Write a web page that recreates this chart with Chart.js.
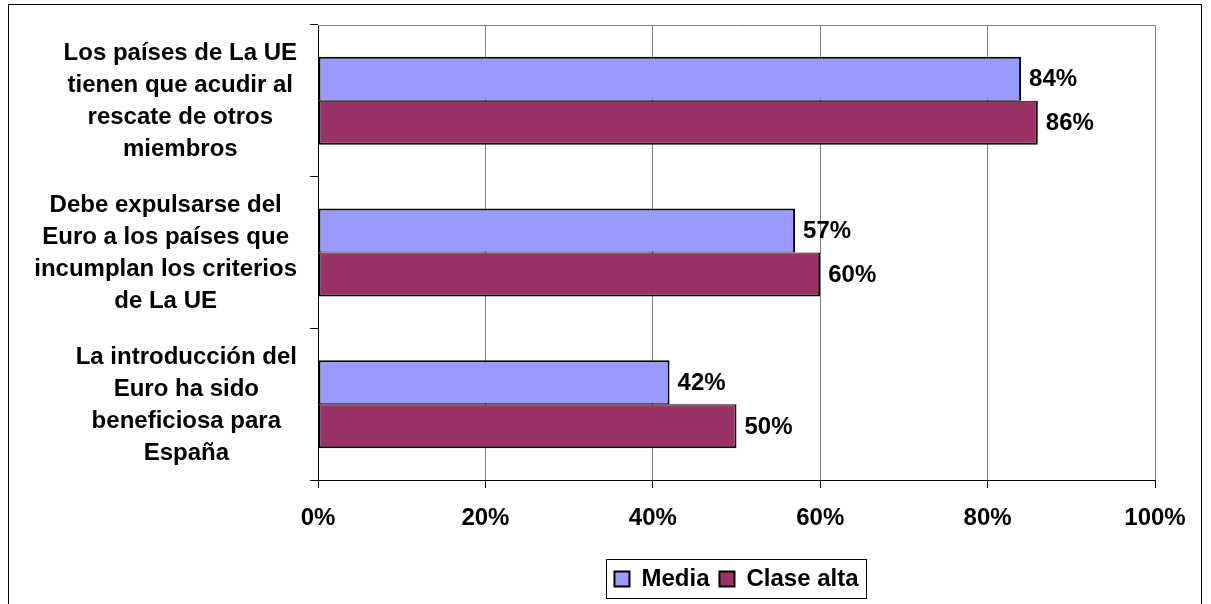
<!DOCTYPE html>
<html>
<head>
<meta charset="utf-8">
<script src="https://cdn.jsdelivr.net/npm/chart.js@4"></script>
<style>
  html, body { margin: 0; padding: 0; background: #fff; }
  #wrap { width: 1211px; height: 604px; }
</style>
</head>
<body>
<div id="wrap"><canvas id="chart" width="1211" height="604"></canvas></div>
<script>
// --- DATA ---
const categories = [
    ['Los países de La UE', 'tienen que acudir al', 'rescate de otros', 'miembros'],
    ['Debe expulsarse del', 'Euro a los países que', 'incumplan los criterios', 'de La UE'],
    ['La introducción del', 'Euro ha sido', 'beneficiosa para', 'España']
];
const seriesNames = ['Media', 'Clase alta'];
const mediaValues = [84, 57, 42];
const claseAltaValues = [86, 60, 50];
const xTickLabels = ['0%', '20%', '40%', '60%', '80%', '100%'];

const FONT = "'Liberation Sans', Arial, sans-serif";
const LABEL_FONT = 'bold 24px ' + FONT;

// frame, outer border, category labels, value labels, legend box
const extras = {
    id: 'extras',
    beforeDraw(chart) {
        const ctx = chart.ctx;
        ctx.save();
        ctx.strokeStyle = '#000';
        ctx.lineWidth = 1;
        ctx.strokeRect(8.5, 4.5, 1193, 640);
        ctx.restore();
    },
    beforeDatasetsDraw(chart) {
        const { ctx, chartArea: a } = chart;
        ctx.save();
        ctx.strokeStyle = '#808080';
        ctx.lineWidth = 1;
        ctx.beginPath();
        ctx.moveTo(a.left, Math.round(a.top) + 0.5);
        ctx.lineTo(a.right, Math.round(a.top) + 0.5);
        ctx.stroke();
        ctx.restore();
    },
    afterDatasetsDraw(chart) {
        const ctx = chart.ctx;
        ctx.save();
        ctx.font = LABEL_FONT;
        ctx.fillStyle = '#000';
        ctx.textAlign = 'left';
        ctx.textBaseline = 'middle';
        chart.data.datasets.forEach((ds, i) => {
            chart.getDatasetMeta(i).data.forEach((bar, j) => {
                ctx.fillText(ds.data[j] + '%', bar.x + 8, bar.y + 1);
            });
        });
        ctx.restore();
    },
    afterDraw(chart) {
        const ctx = chart.ctx;
        // category labels: each block right-aligned, lines centred inside the block
        const yScale = chart.scales.y;
        ctx.save();
        ctx.font = LABEL_FONT;
        ctx.fillStyle = '#000';
        ctx.textAlign = 'center';
        ctx.textBaseline = 'middle';
        const lineH = 32;
        chart.data.labels.forEach((lines, i) => {
            const yc = yScale.getPixelForTick(i);
            const widest = Math.max(...lines.map(s => ctx.measureText(s).width));
            const xc = yScale.right - 21 - widest / 2;
            lines.forEach((s, k) => {
                ctx.fillText(s, xc, yc + (k - (lines.length - 1) / 2) * lineH + 1);
            });
        });
        ctx.restore();

        const boxes = chart.legend.legendHitBoxes;
        if (!boxes || !boxes.length) return;
        let l = Infinity, r = -Infinity, t = Infinity, b = -Infinity;
        boxes.forEach(h => {
            l = Math.min(l, h.left); r = Math.max(r, h.left + h.width);
            t = Math.min(t, h.top); b = Math.max(b, h.top + h.height);
        });
        const cy = (t + b) / 2;
        ctx.save();
        ctx.strokeStyle = '#000';
        ctx.lineWidth = 1;
        ctx.strokeRect(Math.round(l - 8) + 0.5, Math.round(cy - 20) + 0.5, Math.round(r - l + 16), 39);
        ctx.restore();
    }
};

new Chart(document.getElementById('chart'), {
    type: 'bar',
    data: {
        labels: categories,
        datasets: [
            { label: seriesNames[0], data: mediaValues, backgroundColor: '#9999FF', borderColor: '#000',
              borderWidth: { top: 2, bottom: 1, left: 2, right: 2 }, borderSkipped: false },
            { label: seriesNames[1], data: claseAltaValues, backgroundColor: '#993366', borderColor: '#000',
              borderWidth: { top: 1, bottom: 2, left: 2, right: 2 }, borderSkipped: false }
        ]
    },
    options: {
        indexAxis: 'y',
        responsive: false,
        animation: false,
        devicePixelRatio: 1,
        layout: { padding: { top: 25, right: 56, bottom: 3, left: 0 } },
        datasets: { bar: { categoryPercentage: 0.58, barPercentage: 1 } },
        scales: {
            x: {
                min: 0, max: 100,
                ticks: {
                    stepSize: 20,
                    color: '#000',
                    padding: 16,
                    maxRotation: 0,
                    font: { family: FONT, size: 24, weight: 'bold' },
                    callback: (v, i) => xTickLabels[i]
                },
                grid: { color: '#808080', tickColor: '#000', tickLength: 8 },
                border: { color: '#000', width: 1 },
                afterFit(scale) { scale.height = 77; scale.paddingLeft = 0; scale.paddingRight = 0; }
            },
            y: {
                ticks: { display: false },
                grid: { drawOnChartArea: false, tickColor: '#000', tickLength: 8, offset: true },
                border: { color: '#000', width: 1 },
                afterFit(scale) { scale.width = 318; scale.paddingTop = 0; scale.paddingBottom = 0; }
            }
        },
        plugins: {
            legend: {
                position: 'bottom',
                fullSize: false,
                labels: {
                    boxWidth: 15,
                    boxHeight: 15,
                    padding: 10,
                    color: '#000',
                    font: { family: FONT, size: 24, weight: 'bold' },
                    generateLabels(chart) {
                        return chart.data.datasets.map((ds, i) => ({
                            text: ds.label,
                            fillStyle: ds.backgroundColor,
                            strokeStyle: '#000',
                            lineWidth: 2,
                            datasetIndex: i
                        }));
                    }
                }
            },
            tooltip: { enabled: false }
        }
    },
    plugins: [extras]
});
</script>
</body>
</html>
